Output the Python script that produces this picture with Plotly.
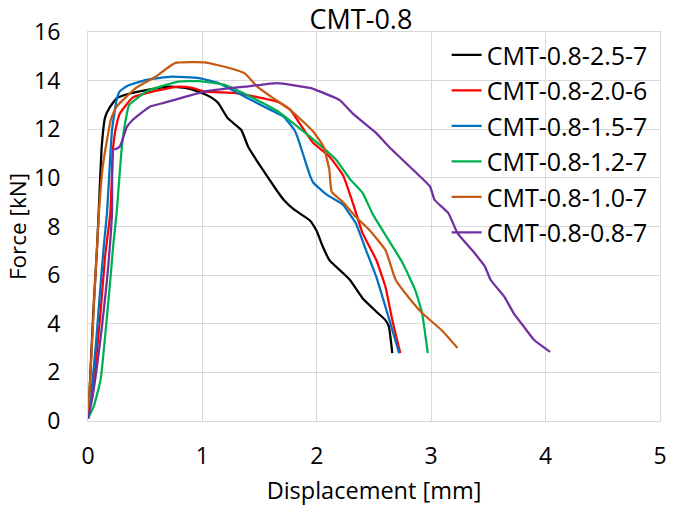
import plotly.graph_objects as go

# CMT-0.8-2.5-7 (black)
x_25 = [0, 0.01, 0.023, 0.05, 0.08, 0.10, 0.12, 0.15, 0.19, 0.25, 0.35, 0.5, 0.71, 0.85, 0.99,
        1.08, 1.14, 1.22, 1.34, 1.40, 1.51, 1.655, 1.71, 1.80, 1.94, 2.0, 2.05, 2.11, 2.23, 2.29,
        2.40, 2.52, 2.60, 2.63, 2.66]
y_25 = [0.1, 0.8, 2.2, 4.8, 7.2, 9.3, 11.3, 12.5, 12.9, 13.27, 13.45, 13.6, 13.75, 13.7, 13.5,
        13.3, 13.07, 12.46, 11.97, 11.28, 10.46, 9.45, 9.1, 8.7, 8.25, 7.8, 7.2, 6.62, 6.08, 5.8,
        5.05, 4.5, 4.15, 3.88, 2.79]

# CMT-0.8-2.0-6 (red)
x_20 = [0, 0.03, 0.07, 0.11, 0.15, 0.195, 0.22, 0.25, 0.28, 0.39, 0.56, 0.79, 0.91, 1.02, 1.28,
        1.46, 1.655, 1.71, 1.77, 1.83, 1.97, 2.11, 2.23, 2.32, 2.40, 2.52, 2.60, 2.66, 2.73]
y_20 = [0.1, 1.0, 2.5, 4.5, 6.8, 8.55, 11.28, 12.2, 12.66, 13.3, 13.55, 13.75, 13.7, 13.55, 13.5,
        13.34, 13.13, 13.0, 12.79, 12.38, 11.43, 10.88, 10.1, 8.9, 7.73, 6.62, 5.52, 4.15, 2.79]

# CMT-0.8-1.5-7 (blue)
x_15 = [0, 0.03, 0.07, 0.11, 0.14, 0.166, 0.19, 0.21, 0.25, 0.276, 0.35, 0.51, 0.73, 0.97, 1.14,
        1.37, 1.54, 1.655, 1.71, 1.80, 1.83, 1.885, 1.94, 1.97, 2.09, 2.23, 2.26, 2.34, 2.43, 2.52,
        2.60, 2.72]
y_15 = [0.1, 1.2, 3.2, 5.6, 7.3, 8.55, 10.5, 11.97, 13.2, 13.55, 13.8, 14.03, 14.16, 14.1, 13.9,
        13.34, 12.93, 12.66, 12.52, 12.0, 11.7, 10.9, 10.1, 9.8, 9.3, 8.9, 8.7, 8.14, 7.03, 5.93,
        4.7, 2.79]

# CMT-0.8-1.2-7 (green)
x_12 = [0, 0.05, 0.11, 0.15, 0.195, 0.22, 0.25, 0.296, 0.33, 0.36, 0.53, 0.79, 0.97, 1.2, 1.42,
        1.655, 1.94, 2.17, 2.29, 2.40, 2.49, 2.75, 2.86, 2.92, 2.97]
y_12 = [0.1, 0.6, 1.69, 3.5, 5.8, 7.2, 8.55, 11.28, 12.4, 13.0, 13.6, 13.96, 13.98, 13.82, 13.34,
        12.75, 11.7, 10.74, 9.95, 9.38, 8.5, 6.5, 5.39, 4.44, 2.79]

# CMT-0.8-1.0-7 (orange)
x_10 = [0, 0.02, 0.05, 0.095, 0.13, 0.166, 0.2, 0.25, 0.42, 0.59, 0.76, 1.02, 1.25, 1.37, 1.48,
        1.6, 1.77, 1.97, 2.06, 2.09, 2.11, 2.13, 2.23, 2.34, 2.46, 2.60, 2.69, 2.80, 2.92, 3.09,
        3.23]
y_10 = [0.1, 1.8, 4.6, 8.55, 10.5, 11.56, 12.4, 12.93, 13.7, 14.16, 14.72, 14.75, 14.5, 14.3,
        13.75, 13.34, 12.79, 11.9, 11.28, 10.74, 10.33, 9.43, 9.0, 8.4, 7.86, 7.03, 5.8, 5.1,
        4.44, 3.74, 3.0]

# CMT-0.8-0.8-7 (purple)
x_08 = [0, 0.04, 0.08, 0.12, 0.166, 0.21, 0.22, 0.25, 0.28, 0.34, 0.39, 0.54, 0.65, 1.02, 1.37,
        1.655, 1.94, 2.0, 2.2, 2.32, 2.52, 2.63, 2.86, 2.99, 3.03, 3.15, 3.23, 3.38, 3.47, 3.52,
        3.64, 3.72, 3.81, 3.90, 4.04]
y_08 = [0.1, 1.0, 2.3, 3.8, 5.8, 8.55, 11.15, 11.2, 11.3, 12.1, 12.38, 12.93, 13.07, 13.55,
        13.75, 13.9, 13.7, 13.6, 13.2, 12.62, 11.84, 11.28, 10.25, 9.64, 9.09, 8.55, 7.73, 6.9,
        6.35, 5.8, 5.11, 4.44, 3.88, 3.33, 2.84]

names = ["CMT-0.8-2.5-7", "CMT-0.8-2.0-6", "CMT-0.8-1.5-7",
         "CMT-0.8-1.2-7", "CMT-0.8-1.0-7", "CMT-0.8-0.8-7"]
colors = ["#000000", "#FF0000", "#0070C0", "#00B050", "#C55A11", "#7030A0"]
series = [(x_25, y_25), (x_20, y_20), (x_15, y_15), (x_12, y_12), (x_10, y_10), (x_08, y_08)]

x_ticks = [0, 1, 2, 3, 4, 5]
y_ticks = [0, 2, 4, 6, 8, 10, 12, 14, 16]

FONT = "Open Sans"
fig = go.Figure()
for i, ((xs, ys), nm, c) in enumerate(zip(series, names, colors)):
    fig.add_trace(go.Scatter(x=xs, y=ys, mode="lines", name=nm, legendgroup=str(i),
                             line=dict(color=c, width=2.25, shape="spline", smoothing=0.4)))

grid = "#D9D9D9"
fig.update_layout(
    width=675, height=511,
    margin=dict(l=88, r=8, t=32, b=90),
    paper_bgcolor="white", plot_bgcolor="white",
    font=dict(family=FONT, size=23, color="black"),
    title=dict(text="CMT-0.8", x=361/675, xanchor="center", y=1-20/511, yanchor="middle",
               font=dict(family=FONT, size=27, color="black")),
    xaxis=dict(range=[0, 5], tickvals=x_ticks, ticktext=[str(v) for v in x_ticks],
               showgrid=True, gridcolor=grid, gridwidth=1, zeroline=False,
               showline=True, linecolor=grid, linewidth=1, mirror=True,
               ticks="", ticklabelstandoff=14,
               title=dict(text="Displacement [mm]", standoff=12,
                          font=dict(family=FONT, size=23.5, color="black"))),
    yaxis=dict(range=[0, 16], tickvals=y_ticks, ticktext=[str(v) for v in y_ticks],
               showgrid=True, gridcolor=grid, gridwidth=1, zeroline=False,
               showline=True, linecolor=grid, linewidth=1, mirror=True,
               ticks="", ticklabelstandoff=22,
               title=dict(text="Force [kN]", standoff=1,
                          font=dict(family=FONT, size=22.5, color="black"))),
    legend=dict(x=0.627, y=1.0, xanchor="left", yanchor="top", bgcolor="rgba(0,0,0,0)",
                tracegroupgap=0, font=dict(family=FONT, size=25, color="black"),
                itemwidth=30),
    showlegend=True,
)
fig.write_html("out.html")
